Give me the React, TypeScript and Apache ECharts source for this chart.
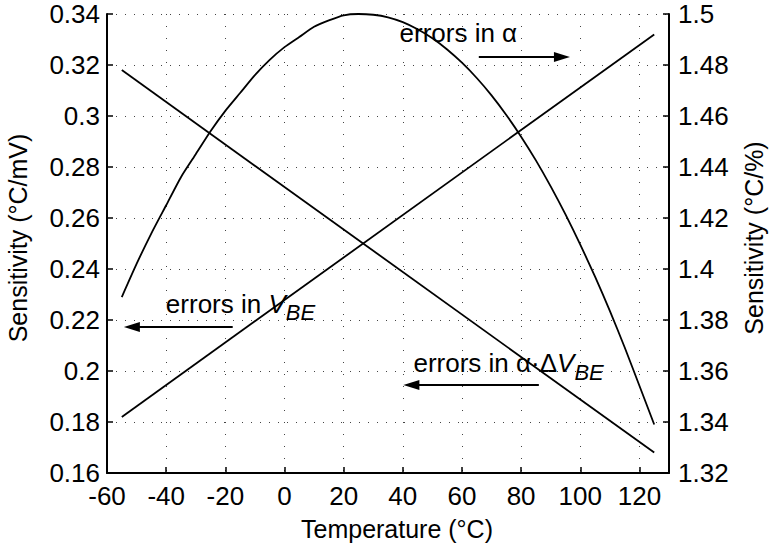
import { useEffect, useRef } from 'react';
import * as echarts from 'echarts';

const FONT = '"Liberation Sans", Arial, Helvetica, sans-serif';

// Temperatures (°C) at which the curved sensitivity is sampled
const temps = [
  -55, -50, -45, -40, -35, -30, -25, -20, -15, -10, -5, 0, 5, 10, 15, 20, 25, 30, 35,
  40, 45, 50, 55, 60, 65, 70, 75, 80, 85, 90, 95, 100, 105, 110, 115, 120, 125,
];
// Sensitivity to errors in alpha (°C/%), right axis
const alphaSens = [
  1.389, 1.402, 1.414, 1.425, 1.436, 1.445, 1.454, 1.462, 1.469, 1.476, 1.482, 1.487,
  1.491, 1.495, 1.4975, 1.4995, 1.5, 1.4997, 1.4987, 1.4968, 1.494, 1.4905, 1.4861,
  1.4809, 1.4749, 1.4681, 1.4604, 1.4519, 1.4426, 1.4324, 1.4214, 1.4096, 1.397,
  1.3836, 1.3693, 1.3542, 1.339,
];
// Straight-line sensitivities (°C/mV), left axis
const lineTemps = [-55, 125];
const vbeSens = [0.182, 0.332];
const dvbeSens = [0.318, 0.168];

// Axis ranges
const xRange = [-60, 130];
const leftRange = [0.16, 0.34];
const rightRange = [1.32, 1.5];
const tickStep = { x: 20, y: 0.02 };

const fmt = (v: number) => String(+v.toFixed(2));

export default function App() {
  const ref = useRef<HTMLDivElement>(null);

  useEffect(() => {
    document.body.style.margin = '0';
    const chart = echarts.init(ref.current!, null, { renderer: 'svg' });
    const labelStyle = { color: '#000', fontSize: 26, fontFamily: FONT };
    const lineStyle = { color: '#000', width: 1.8 };
    const arrow = (from: number[], to: number[]) => ({
      silent: true,
      symbol: ['none', 'triangle'],
      symbolSize: [10, 16],
      label: { show: false },
      emphasis: { disabled: true },
      lineStyle: { color: '#000', width: 2, type: 'solid' },
      data: [[{ coord: from }, { coord: to }]],
    });

    chart.setOption({
      animation: false,
      grid: { left: 107, right: 100, top: 14, bottom: 76 },
      xAxis: {
        type: 'value',
        min: xRange[0],
        max: xRange[1],
        interval: tickStep.x,
        z: 3,
        axisLine: { show: true, onZero: false, lineStyle: { color: '#000', width: 2 } },
        axisTick: { show: true, inside: true, length: 6, lineStyle: { color: '#000', width: 1.5 } },
        axisLabel: {
          ...labelStyle,
          margin: 10,
          showMaxLabel: false,
          formatter: (v: number) => (v % 20 === 0 ? String(v) : ''),
        },
        splitLine: { show: true, lineStyle: { color: '#444', width: 1, type: [1, 11] } },
      },
      yAxis: [
        {
          type: 'value',
          position: 'left',
          min: leftRange[0],
          max: leftRange[1],
          interval: tickStep.y,
          z: 3,
          axisLine: { show: true, onZero: false, lineStyle: { color: '#000', width: 2 } },
          axisTick: { show: true, inside: true, length: 6, lineStyle: { color: '#000', width: 1.5 } },
          axisLabel: { ...labelStyle, margin: 7, formatter: fmt },
          splitLine: { show: true, lineStyle: { color: '#444', width: 1, type: [1, 8] } },
        },
        {
          type: 'value',
          position: 'right',
          min: rightRange[0],
          max: rightRange[1],
          interval: tickStep.y,
          z: 3,
          axisLine: { show: true, onZero: false, lineStyle: { color: '#000', width: 2 } },
          axisTick: { show: true, inside: true, length: 6, lineStyle: { color: '#000', width: 1.5 } },
          axisLabel: { ...labelStyle, margin: 9, formatter: fmt },
          splitLine: { show: false },
        },
      ],
      series: [
        {
          name: 'errors in VBE',
          type: 'line',
          yAxisIndex: 0,
          showSymbol: false,
          lineStyle,
          itemStyle: { color: '#000' },
          data: lineTemps.map((t, i) => [t, vbeSens[i]]),
          markLine: arrow([-17.5, 0.2173], [-51.6, 0.2173]),
        },
        {
          name: 'errors in alpha*dVBE',
          type: 'line',
          yAxisIndex: 0,
          showSymbol: false,
          lineStyle,
          itemStyle: { color: '#000' },
          data: lineTemps.map((t, i) => [t, dvbeSens[i]]),
          markLine: arrow([86, 0.1945], [42.9, 0.1945]),
        },
        {
          name: 'errors in alpha',
          type: 'line',
          yAxisIndex: 1,
          showSymbol: false,
          smooth: 0.2,
          lineStyle,
          itemStyle: { color: '#000' },
          data: temps.map((t, i) => [t, alphaSens[i]]),
          markLine: arrow([65.7, 1.4831], [93.8, 1.4831]),
        },
      ],
    });

    // Annotation anchors (left edge / vertical middle) in data coordinates
    const notes = [
      { axis: 1, at: [38.9, 1.4925], text: 'errors in α' },
      { axis: 0, at: [-40.1, 0.2263], text: 'errors in {i|V}{s|BE}' },
      { axis: 0, at: [43.6, 0.2031], text: 'errors in α·Δ{i|V}{s|BE}' },
    ];
    const rich = {
      i: { fontStyle: 'italic', fontSize: 26, fontFamily: FONT, lineHeight: 40 },
      s: { fontStyle: 'italic', fontSize: 22, fontFamily: FONT, lineHeight: 22, verticalAlign: 'bottom' },
    };
    const noteEls = notes.map((n) => {
      const [px, py] = chart.convertToPixel({ xAxisIndex: 0, yAxisIndex: n.axis }, n.at) as number[];
      const hasSub = n.text.includes('{s|');
      return {
        type: 'text',
        x: px,
        y: py,
        z: 2.5,
        silent: true,
        style: {
          text: n.text,
          fill: '#000',
          fontSize: 26,
          fontFamily: FONT,
          lineHeight: hasSub ? 40 : 28,
          align: 'left',
          verticalAlign: 'middle',
          backgroundColor: '#fff',
          rich,
        },
      };
    });
    const title = (text: string, x: number, y: number, rotation = 0) => ({
      type: 'text',
      x,
      y,
      rotation,
      silent: true,
      style: {
        text,
        fill: '#000',
        fontSize: 25,
        fontFamily: FONT,
        align: 'center',
        verticalAlign: 'middle',
      },
    });

    chart.setOption({
      graphic: [
        ...noteEls,
        title('Temperature (°C)', 397, 529),
        title('Sensitivity (°C/mV)', 18, 238, Math.PI / 2),
        title('Sensitivity (°C/%)', 754, 238, Math.PI / 2),
      ],
    });

    return () => chart.dispose();
  }, []);

  return <div ref={ref} style={{ width: 769, height: 549 }} />;
}
